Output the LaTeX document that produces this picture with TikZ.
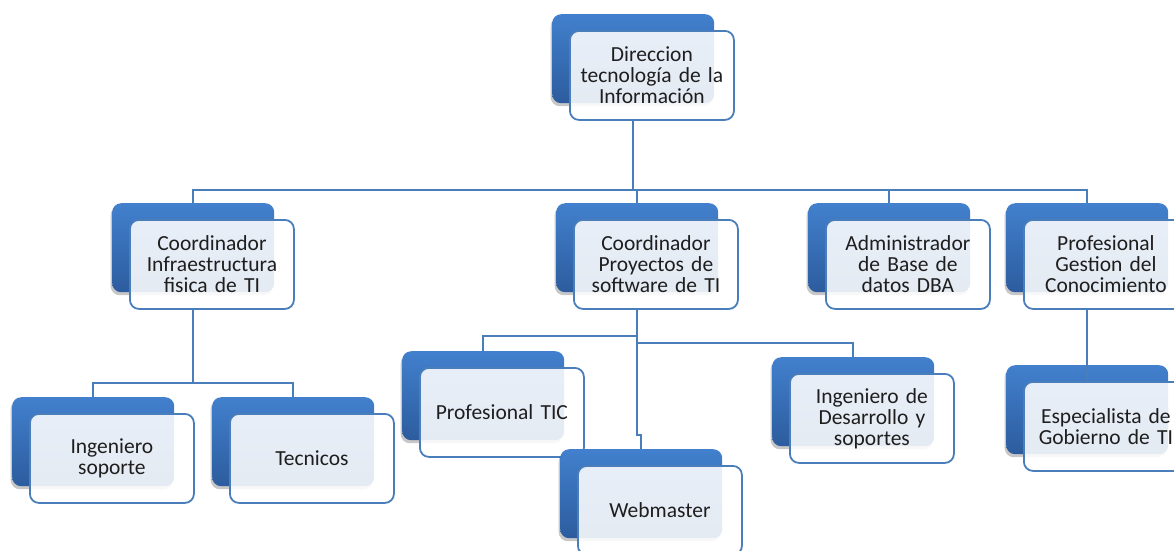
\documentclass[tikz,border=0pt]{standalone}
\usepackage{fontspec}
\setmainfont{Carlito}
\usetikzlibrary{shadows}
\definecolor{conncol}{RGB}{74,126,187}
\definecolor{backtop}{RGB}{66,128,205}
\definecolor{backbot}{RGB}{44,92,158}
\definecolor{txtcol}{RGB}{30,30,30}
\tikzset{
  backbox/.style={anchor=north west, rectangle, rounded corners=9pt,
    minimum width=162pt, minimum height=89pt, inner sep=0pt,
    top color=backtop, bottom color=backbot, draw=none,
    general shadow={shadow xshift=-1.5pt, shadow yshift=-3pt, fill=black, opacity=.22}},
  frontbox/.style={anchor=north west, rectangle, rounded corners=9pt,
    minimum width=164pt, minimum height=89pt, inner sep=2pt,
    draw=conncol, line width=1.8pt, fill=white, fill opacity=.88, text opacity=1,
    text=txtcol, align=center, text width=158pt,
    font=\fontsize{21.5}{21}\selectfont},
  conn/.style={draw=conncol, line width=1.9pt}
}
% one unit = back box (blue) plus front box (white) shifted down-right
\newcommand\orgunit[4]{%
  \node[backbox] (#1b) at (#2,#3) {};
  \node[frontbox] (#1) at (#2+17,#3+16) {#4};
}
\begin{document}
\begin{tikzpicture}[x=1pt,y=-1pt]
\useasboundingbox (0,0) rectangle (1174,550);

\orgunit{top}{552}{14}{Direccion\\tecnología de la\\Información}
\orgunit{infra}{112}{203}{Coordinador\\Infraestructura\\fisica de TI}
\orgunit{proy}{556}{203}{Coordinador\\Proyectos de\\software de TI}
\orgunit{admin}{808}{203}{Administrador\\de Base de\\datos DBA}
\orgunit{gest}{1006}{203}{Profesional\\Gestion del\\Conocimiento}
\orgunit{ingsop}{12}{397}{Ingeniero\\soporte}
\orgunit{tec}{212}{397}{Tecnicos}
\orgunit{ptic}{402}{351}{Profesional TIC}
\orgunit{web}{560}{449}{Webmaster}
\orgunit{ingdes}{772}{357}{Ingeniero de\\Desarrollo y\\soportes}
\orgunit{espec}{1006}{365}{Especialista de\\Gobierno de TI}

% bus heights of the connector lines
\coordinate (bus1) at (0,190);
\coordinate (bus2) at (0,383);
\coordinate (bus3) at (0,336);
\coordinate (bus4) at (0,343);
\coordinate (jog) at (0,435);

% first level
\draw[conn] (topb.south |- top.south) -- (topb.south |- bus1);
\draw[conn] (infrab.north) -- (infrab.north |- bus1) -- (gestb.north |- bus1) -- (gestb.north);
\draw[conn] (proyb.north |- bus1) -- (proyb.north);
\draw[conn] (adminb.north |- bus1) -- (adminb.north);

% under Coordinador Infraestructura
\draw[conn] (infrab.south |- infra.south) -- (infrab.south |- bus2);
\draw[conn] (ingsopb.north) -- (ingsopb.north |- bus2) -- (tecb.north |- bus2) -- (tecb.north);

% under Coordinador Proyectos
\draw[conn] (proyb.south |- proy.south) -- (proyb.south |- jog) -- (webb.north |- jog) -- (webb.north);
\draw[conn] (proyb.south |- bus3) -- (pticb.north |- bus3) -- (pticb.north);
\draw[conn] (proyb.south |- bus4) -- (ingdesb.north |- bus4) -- (ingdesb.north);

% under Profesional Gestion del Conocimiento
\draw[conn] (gestb.south |- gest.south) -- (espec.north -| especb.north);
\end{tikzpicture}
\end{document}
